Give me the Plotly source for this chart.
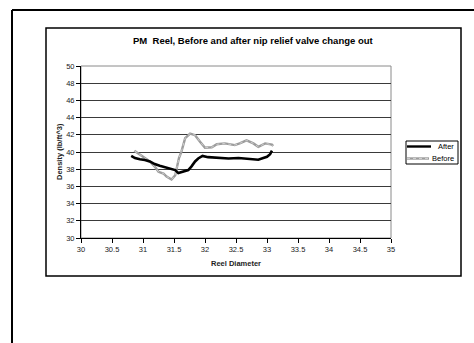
import plotly.graph_objects as go

after_x = [30.81, 30.87, 30.95, 31.03, 31.11, 31.19, 31.27, 31.35, 31.46, 31.52, 31.57, 31.65,
           31.73, 31.78, 31.84, 31.89, 31.96, 32.05, 32.21, 32.38, 32.54, 32.70, 32.86, 32.94,
           33.00, 33.05, 33.08]
after_y = [39.55, 39.3, 39.15, 39.07, 38.9, 38.6, 38.4, 38.25, 38.1, 37.9, 37.55, 37.7,
           37.9, 38.3, 38.9, 39.25, 39.55, 39.4, 39.35, 39.25, 39.3, 39.2, 39.1, 39.3,
           39.45, 39.75, 40.15]

before_x = [30.86, 30.95, 31.03, 31.11, 31.19, 31.25, 31.33, 31.38, 31.46, 31.52, 31.54, 31.58,
            31.62, 31.68, 31.76, 31.84, 31.92, 32.00, 32.11, 32.19, 32.32, 32.48, 32.56, 32.67,
            32.78, 32.86, 32.97, 33.08, 33.10]
before_y = [40.15, 39.75, 39.3, 38.9, 38.3, 37.7, 37.5, 37.15, 36.8, 37.3, 38.1, 39.3,
            40.05, 41.6, 42.15, 41.95, 41.2, 40.5, 40.55, 40.9, 41.0, 40.8, 41.0, 41.35,
            41.0, 40.6, 41.0, 40.85, 40.7]

x_ticks = [30, 30.5, 31, 31.5, 32, 32.5, 33, 33.5, 34, 34.5, 35]
y_ticks = [30, 32, 34, 36, 38, 40, 42, 44, 46, 48, 50]

series_names = ["After", "Before"]
series_colors = ["#000000", "#9c9c9c"]

W, H = 474, 343
L, R, T, B = 81, 391, 66, 238

def px(xp):
    return (xp - L) / (R - L)

def py(yp):
    return (B - yp) / (B - T)

font = "Liberation Sans, Arial, sans-serif"

fig = go.Figure()
fig.add_trace(go.Scatter(x=before_x, y=before_y, mode="lines", name=series_names[1],
                         line=dict(color=series_colors[1], width=2.4)))
fig.add_trace(go.Scatter(x=before_x, y=before_y, mode="lines", name=series_names[1] + " core",
                         line=dict(color="#dcdcdc", width=0.8, dash="dot")))
fig.add_trace(go.Scatter(x=after_x, y=after_y, mode="lines", name=series_names[0],
                         line=dict(color=series_colors[0], width=2.6)))

shapes = [
    dict(type="rect", xref="paper", yref="paper", x0=0, x1=1, y0=0, y1=1,
         line=dict(color="#8a8a8a", width=1), layer="below"),
    dict(type="rect", xref="paper", yref="paper", x0=px(46), x1=px(461), y0=py(276), y1=py(28),
         line=dict(color="#000", width=1.5)),
    dict(type="line", xref="paper", yref="paper", x0=px(12), x1=px(12), y0=py(10), y1=py(343),
         line=dict(color="#000", width=2)),
    dict(type="line", xref="paper", yref="paper", x0=px(12), x1=px(474), y0=py(10), y1=py(10),
         line=dict(color="#000", width=2)),
    dict(type="rect", xref="paper", yref="paper", x0=px(406), x1=px(458), y0=py(164), y1=py(141),
         line=dict(color="#000", width=1), fillcolor="white"),
]
annotations = [
    dict(text="<b>PM  Reel, Before and after nip relief valve change out</b>",
         xref="paper", yref="paper", x=px(253), y=py(41), xanchor="center", yanchor="middle",
         showarrow=False, font=dict(size=9.5, color="#000")),
    dict(text="<b>Reel Diameter</b>", xref="paper", yref="paper", x=px(236), y=py(263),
         xanchor="center", yanchor="middle", showarrow=False, font=dict(size=7.5, color="#222")),
    dict(text="<b>Density (lb/ft^3)</b>", xref="paper", yref="paper", x=px(59), y=py(152),
         xanchor="center", yanchor="middle", showarrow=False, textangle=-90,
         font=dict(size=7.5, color="#222")),
]
line_ends = [431, 429]
for i, (nm, col) in enumerate(zip(series_names, series_colors)):
    yy = 146.5 + i * 12
    shapes.append(dict(type="line", xref="paper", yref="paper", x0=px(407), x1=px(line_ends[i]),
                       y0=py(yy), y1=py(yy), line=dict(color=col, width=2.4)))
    if i == 1:
        shapes.append(dict(type="line", xref="paper", yref="paper", x0=px(407), x1=px(line_ends[i]),
                           y0=py(yy), y1=py(yy), line=dict(color="#dcdcdc", width=0.8, dash="dot")))
    annotations.append(dict(text=nm, xref="paper", yref="paper", x=px(456), y=py(yy),
                            xanchor="right", yanchor="middle", showarrow=False,
                            font=dict(size=7.5, color="#000")))

fig.update_layout(
    width=W, height=H,
    margin=dict(l=L, r=W - R, t=T, b=H - B),
    paper_bgcolor="white", plot_bgcolor="white",
    font=dict(family=font, size=7, color="#222"),
    showlegend=False,
    xaxis=dict(range=[30, 35], tickvals=x_ticks, ticktext=[str(v) for v in x_ticks],
               showgrid=False, zeroline=False, showline=True, linecolor="#000", linewidth=1,
               ticks="outside", ticklen=4, tickcolor="#000", tickfont=dict(size=7.5, color="#222"),
               fixedrange=True),
    yaxis=dict(range=[30, 50], tickvals=y_ticks, ticktext=[str(v) for v in y_ticks],
               showgrid=True, gridcolor="#3a3a3a", gridwidth=1, zeroline=False,
               showline=True, linecolor="#000", linewidth=1,
               ticks="outside", ticklen=4, tickcolor="#000", tickfont=dict(size=7.5, color="#222"),
               fixedrange=True),
    shapes=shapes,
    annotations=annotations,
)

fig.write_html("out.html")
